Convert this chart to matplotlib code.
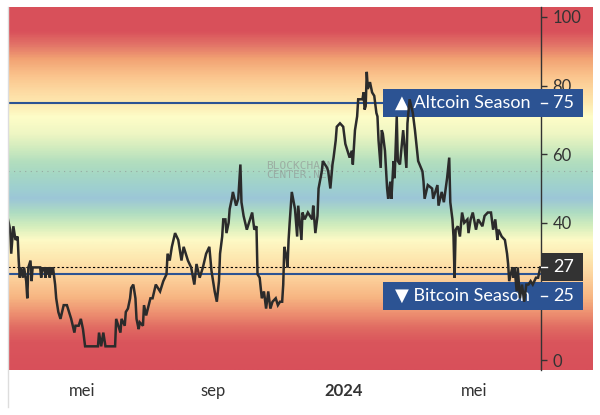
"""Altcoin Season Index – reproductie van de grafiek met verloopachtergrond."""

import numpy as np
import pandas as pd
import matplotlib
matplotlib.use("Agg")
import matplotlib.pyplot as plt
from matplotlib.colors import LinearSegmentedColormap
from matplotlib.patches import Rectangle
from matplotlib.transforms import blended_transform_factory
from matplotlib.lines import Line2D

# ------------ data -----------------

start_date = "2023-02-21 05:00"
# dagen sinds start_date, en de indexwaarde op die dag
days = [0, 2, 3, 5, 7, 9, 10, 11, 12, 14, 15, 17, 18, 19, 21, 22, 23, 30,
        31, 32, 33, 34, 35, 36, 37, 38, 39, 40, 41, 42, 44, 45, 47, 49, 52,
        55, 57, 59, 62, 63, 66, 68, 70, 72, 84, 85, 87, 89, 91, 100, 101,
        105, 106, 109, 110, 112, 114, 115, 117, 119, 120, 122, 123, 126,
        127, 129, 133, 135, 138, 142, 145, 148, 149, 151, 153, 156, 159,
        162, 164, 166, 168, 171, 174, 176, 179, 182, 185, 188, 190, 193,
        195, 197, 198, 200, 201, 203, 204, 206, 207, 209, 210, 213, 215,
        217, 218, 220, 223, 226, 228, 230, 232, 233, 235, 237, 239, 241,
        243, 245, 247, 250, 252, 254, 256, 257, 258, 260, 261, 262, 263,
        265, 268, 270, 271, 274, 275, 277, 280, 284, 285, 287, 289, 290,
        293, 294, 298, 299, 301, 303, 304, 306, 307, 310, 313, 315, 317,
        319, 321, 322, 324, 326, 327, 331, 332, 333, 334, 335, 336, 338,
        340, 342, 344, 345, 346, 348, 349, 350, 352, 354, 355, 357, 358,
        360, 361, 363, 364, 366, 369, 372, 373, 375, 378, 380, 383, 387,
        388, 389, 392, 396, 397, 401, 402, 405, 407, 410, 412, 413, 415,
        416, 417, 418, 420, 422, 424, 426, 429, 430, 432, 434, 437, 439,
        443, 445, 448, 451, 453, 455, 457, 458, 461, 464, 466, 467, 468,
        471, 472, 473, 475, 476, 478, 480, 482, 484, 486, 488, 490, 493,
        495, 497]
index_values = [41, 38, 31, 39, 35, 36, 29, 24, 27, 24, 27, 23, 18, 27, 29,
                23, 27, 27, 24, 27, 26, 27, 24, 27, 25, 27, 24, 27, 25, 27,
                22, 18, 14, 12, 16, 16, 14, 12, 8, 10, 10, 12, 9, 4, 4, 8, 4,
                8, 4, 4, 12, 8, 12, 10, 14, 15, 18, 21, 22, 18, 12, 9, 11, 10,
                16, 13, 18, 18, 22, 20, 23, 25, 31, 29, 33, 37, 35, 29, 33, 31,
                29, 27, 22, 28, 24, 27, 31, 33, 26, 20, 17, 23, 31, 36, 41, 41,
                37, 40, 44, 47, 49, 45, 47, 57, 46, 42, 38, 41, 43, 38, 39, 25,
                24, 18, 20, 15, 20, 15, 17, 18, 16, 17, 17, 22, 33, 30, 27, 35,
                40, 49, 44, 36, 45, 35, 43, 41, 43, 41, 45, 37, 42, 50, 55, 58,
                56, 55, 50, 57, 59, 64, 68, 69, 68, 63, 61, 59, 61, 57, 67, 71,
                76, 76, 78, 73, 74, 84, 79, 81, 78, 77, 72, 71, 64, 56, 67, 66,
                61, 50, 47, 52, 47, 58, 53, 71, 58, 57, 67, 56, 69, 76, 72, 67,
                58, 55, 52, 47, 51, 50, 47, 51, 45, 49, 46, 53, 59, 46, 41, 36,
                24, 38, 39, 36, 43, 40, 41, 37, 41, 43, 38, 41, 39, 42, 43, 43,
                38, 41, 35, 38, 36, 35, 31, 28, 23, 27, 24, 27, 20, 27, 18, 22,
                17, 22, 22, 23, 22, 24, 24, 27]

current_value = 27
altcoin_level = 75
bitcoin_level = 25

tick_dates = ["2023-05-01", "2023-09-01", "2024-01-01", "2024-05-01"]
tick_labels = ["mei", "sep", "2024", "mei"]
y_ticks = [0, 20, 40, 60, 80, 100]
hidden_y_label = 20   # ligt onder het Bitcoin Season-label

# kleurverloop van de achtergrond (waarde, kleur)
bg_stops = [(-3, "#d8505a"), (5, "#da555c"), (9, "#e06a62"), (13, "#ec8c6f"),
            (18, "#f7b582"), (25, "#fdd6a0"), (30, "#fde9b1"), (35, "#fdfac6"),
            (39, "#d4eebd"), (43, "#aedcc2"), (47, "#9cc6d7"), (50, "#9ecfd0"),
            (54, "#a5d7c5"), (58, "#b4dfbe"), (62, "#d2ecbe"), (66, "#eef6c3"),
            (71, "#fefdc8"), (75, "#fde9b0"), (79, "#fdd8a0"), (83, "#fbc48d"),
            (88, "#f2a273"), (92, "#e37568"), (96, "#d9515b"), (103, "#d8505a")]

# ------------ opmaak ---------------

FONT = ["Lato", "DejaVu Sans"]
plt.rcParams["font.family"] = FONT
BLUE = "#2c5393"
DARK = "#333333"

y_min, y_max = -2.9, 102.9
dates = pd.to_datetime(start_date) + pd.to_timedelta(days, unit="D")
x_left = pd.to_datetime(start_date)
x_right = x_left + pd.Timedelta(days=497.7)

fig = plt.figure(figsize=(6, 4.15), dpi=100)

# achtergrond met kleurverloop (loopt door tot achter de y-labels)
bg = fig.add_axes([8 / 600, 45 / 415, 585 / 600, 363 / 415], zorder=0)
lo, hi = bg_stops[0][0], bg_stops[-1][0]
cmap = LinearSegmentedColormap.from_list(
    "season", [((v - lo) / (hi - lo), c) for v, c in bg_stops])
grad = np.linspace(y_min, y_max, 400).reshape(-1, 1)
bg.imshow(grad, aspect="auto", cmap=cmap, vmin=lo, vmax=hi, origin="lower",
          extent=[0, 1, y_min, y_max], interpolation="bilinear")
bg.axhline(55, color="#8a8a8a", lw=0.8, ls=(0, (1, 4)), alpha=0.6)
bg.set_xlim(0, 1)
bg.set_ylim(y_min, y_max)
bg.axis("off")

# hoofdgrafiek
ax = fig.add_axes([8 / 600, 45 / 415, 533 / 600, 363 / 415], zorder=1)
ax.set_facecolor("none")
ax.plot(dates, index_values, color="#2b2b2b", lw=1.8, zorder=4,
        solid_joinstyle="miter")
ax.axhline(altcoin_level, color=BLUE, lw=1.5, zorder=2)
ax.axhline(bitcoin_level, color=BLUE, lw=1.5, zorder=2)
ax.axhline(current_value, color="black", lw=0.8, ls=(0, (2, 2)), zorder=2)

ax.text((266 - 8) / 533, 55.3, "BLOCKCHAIN\nCENTER.NET",
        transform=blended_transform_factory(ax.transAxes, ax.transData),
        color="#8f8f8f", alpha=0.6, fontsize=8, family="DejaVu Sans Mono",
        ha="left", va="center", linespacing=0.95, zorder=1)

ax.set_xlim(x_left, x_right)
ax.set_ylim(y_min, y_max)
ax.set_xticks(pd.to_datetime(tick_dates))
ax.set_xticklabels(tick_labels)
for lab in ax.get_xticklabels():
    lab.set_fontweight("bold" if lab.get_text().isdigit() else "normal")
ax.tick_params(axis="x", length=0, pad=9, labelsize=12, labelcolor=DARK)

ax.yaxis.tick_right()
ax.set_yticks(y_ticks)
ax.set_yticklabels(["" if t == hidden_y_label else str(t) for t in y_ticks])
ax.tick_params(axis="y", length=4.3, width=1, color=DARK, pad=4,
               labelsize=12, labelcolor=DARK)
for side in ["left", "top", "bottom"]:
    ax.spines[side].set_visible(False)
ax.spines["right"].set_color(DARK)
ax.spines["right"].set_linewidth(1)

# labels bij de seizoensgrenzen
tr = blended_transform_factory(ax.transAxes, ax.transData)
box_x0 = (383 - 8) / 533
box_x1 = (583 - 8) / 533
axis_x1 = (542 - 8) / 533
txt_x = (395 - 8) / 533
num_x = (553 - 8) / 533
tick_w = 6 / 533
box_h = 8.2


def season_label(y, text, number, color):
    ax.add_patch(Rectangle((box_x0, y - box_h / 2), box_x1 - box_x0, box_h,
                           transform=tr, color=color, zorder=3, clip_on=False,
                           lw=0))
    ax.text(txt_x, y, text, transform=tr, color="white", fontsize=13,
            ha="left", va="center", zorder=3.5, family=FONT)
    ax.text(num_x, y, number, transform=tr, color="white", fontsize=13,
            ha="left", va="center", zorder=3.5)
    ax.add_line(Line2D([1, 1 + tick_w], [y, y], transform=tr, color="white",
                       lw=1, zorder=3.5, clip_on=False))


ax.add_patch(Rectangle((axis_x1, current_value - box_h / 2),
                       box_x1 - axis_x1, box_h, transform=tr, color=DARK,
                       zorder=3, clip_on=False, lw=0))
ax.text(num_x, current_value, str(current_value), transform=tr, color="white",
        fontsize=13, ha="left", va="center", zorder=3.5)
ax.add_line(Line2D([1, 1 + tick_w], [current_value] * 2, transform=tr,
                   color="white", lw=1, zorder=3.5, clip_on=False))

season_label(altcoin_level, "\u25b2 Altcoin Season", str(altcoin_level), BLUE)
season_label(18.7, "\u25bc Bitcoin Season", str(bitcoin_level), BLUE)

# grijze rand links
fig.add_artist(Line2D([8 / 600, 8 / 600], [8 / 415, 408 / 415],
                      color="#dddddd", lw=1))

fig.savefig("out.png", dpi=100)
